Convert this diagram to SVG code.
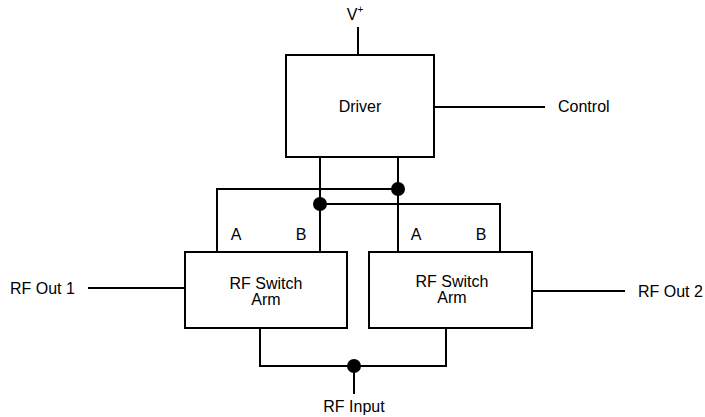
<svg xmlns="http://www.w3.org/2000/svg" width="705" height="417" viewBox="0 0 705 417">
<style>
.box{fill:#fff;stroke:#000;stroke-width:2}
.w{fill:none;stroke:#000;stroke-width:2}
.d{fill:#000}
text{font-family:"Liberation Sans",Arial,sans-serif;font-size:16px;fill:#000}
.c{text-anchor:middle}
</style>
<rect width="705" height="417" fill="#fff"/>
<g id="connectors">
<path class="w" d="M358 27V55"/>
<path class="w" d="M434 107H545"/>
<path class="w" d="M320 157V252"/>
<path class="w" d="M398 157V252"/>
<path class="w" d="M398 189H217V252"/>
<path class="w" d="M320 204H500V252"/>
<path class="w" d="M88 288H185"/>
<path class="w" d="M532 291H625"/>
<path class="w" d="M260 328V366H446V328"/>
<path class="w" d="M354 366V394"/>
<circle class="d" cx="398" cy="189" r="7"/>
<circle class="d" cx="320" cy="204" r="7"/>
<circle class="d" cx="354" cy="366" r="7"/>
</g>
<g id="driver">
<rect class="box" x="286" y="55" width="148" height="102"/>
<text class="c" x="360" y="112">Driver</text>
</g>
<g id="vplus"><text class="c" x="355" y="20">V<tspan font-size="10" dy="-7">+</tspan></text></g>
<g id="control"><text x="558" y="112">Control</text></g>
<g id="arm1">
<rect class="box" x="185" y="252" width="162" height="76"/>
<text class="c" x="266" y="289">RF Switch</text>
<text class="c" x="266" y="305">Arm</text>
<text class="c" x="236" y="240">A</text>
<text class="c" x="301" y="240">B</text>
</g>
<g id="arm2">
<rect class="box" x="369" y="252" width="163" height="76"/>
<text class="c" x="452" y="287">RF Switch</text>
<text class="c" x="452" y="303">Arm</text>
<text class="c" x="416" y="240">A</text>
<text class="c" x="481" y="240">B</text>
</g>
<g id="rfout1"><text x="10" y="294">RF Out 1</text></g>
<g id="rfout2"><text x="638" y="297">RF Out 2</text></g>
<g id="rfinput"><text class="c" x="354" y="412">RF Input</text></g>
</svg>
